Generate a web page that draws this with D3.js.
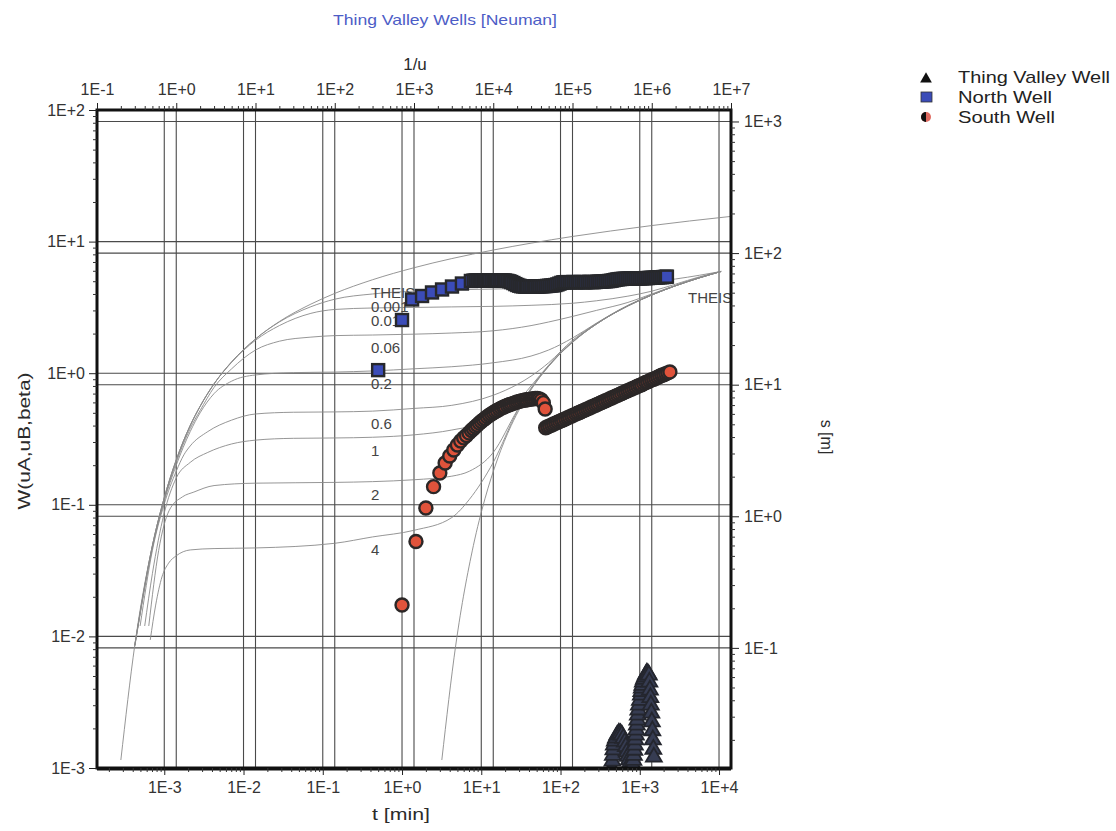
<!DOCTYPE html>
<html>
<head>
<meta charset="utf-8">
<script src="https://cdn.jsdelivr.net/npm/d3@7"></script>
<style>
  body { margin: 0; background: #fff; }
  text { font-family: "Liberation Sans", Arial, sans-serif; fill: #2b2b2b; }
</style>
</head>
<body>
<div id="chart"></div>
<script>
// ---- type curves: [1/u, W] ----
var theisA = [[0.2,0.00115],[0.3,0.0086],[0.5,0.0489],[0.7,0.111],[1,0.219],[1.5,0.40],[2,0.56],[3,0.83],[5,1.22],[10,1.82],[20,2.47],[50,3.35],[100,4.04],[300,5.13],[1000,6.33],[3000,7.43],[1e4,8.63],[3e4,9.73],[1e5,10.94],[3e5,12.03],[1e6,13.24],[3e6,14.34],[1e7,15.54]];
var theisB = [[2244,0.00115],[3366,0.0086],[5610,0.0489],[7854,0.111],[11220,0.219],[16830,0.40],[22440,0.56],[33660,0.83],[56100,1.22],[112200,1.82],[224400,2.47],[561000,3.35],[1122000,4.04],[3366000,5.13],[7500000,5.93]];
var beta0001 = [[0.3,0.0086],[0.5,0.0489],[0.7,0.111],[1,0.219],[1.5,0.40],[2,0.56],[3,0.83],[5,1.22],[10,1.82],[20,2.45],[50,3.2],[100,3.65],[300,4.0],[1000,4.2],[3000,4.3],[1e4,4.36],[3e4,4.42],[1e5,4.5],[2e5,4.6],[5e5,4.75],[1e6,4.95],[2e6,5.2],[4e6,5.55],[7.5e6,5.93]];
var beta001 = [[0.3,0.0086],[0.5,0.0489],[0.7,0.111],[1,0.219],[1.5,0.40],[2,0.56],[3,0.83],[5,1.21],[10,1.78],[20,2.3],[50,2.85],[100,3.05],[300,3.13],[1000,3.16],[3000,3.19],[1e4,3.22],[3e4,3.28],[1e5,3.4],[2e5,3.55],[5e5,3.85],[1e6,4.2],[2e6,4.75],[4e6,5.4],[7.5e6,5.94]];
var beta006 = [[0.3,0.0085],[0.5,0.048],[0.7,0.108],[1,0.21],[1.5,0.38],[2,0.52],[3,0.78],[5,1.08],[10,1.5],[20,1.75],[50,1.88],[100,1.93],[300,1.95],[1000,1.98],[3000,2.02],[1e4,2.1],[3e4,2.3],[5e4,2.45],[1e5,2.7],[2e5,3.0],[5e5,3.45],[1e6,4.0],[2e6,4.65],[4e6,5.33],[7.5e6,5.95]];
var beta02 = [[0.3,0.0084],[0.5,0.047],[0.7,0.105],[1,0.2],[1.5,0.36],[2,0.5],[3,0.7],[5,0.87],[10,0.97],[30,1.01],[100,1.02],[300,1.04],[1000,1.08],[3000,1.12],[1e4,1.2],[3e4,1.35],[5e4,1.5],[1e5,1.85],[2e5,2.4],[5e5,3.28],[1e6,3.95],[2e6,4.63],[4e6,5.31],[7.5e6,5.93]];
var beta06 = [[0.35,0.012],[0.5,0.045],[0.7,0.1],[1,0.18],[1.25,0.24],[1.5,0.28],[2.5,0.36],[5,0.44],[10,0.49],[30,0.505],[100,0.508],[300,0.515],[1000,0.54],[3000,0.57],[1e4,0.68],[2e4,0.82],[3e4,0.95],[5e4,1.2],[1e5,1.78],[2e5,2.38],[5e5,3.26],[1e6,3.94],[2e6,4.62],[4e6,5.31],[7.5e6,5.93]];
var beta1 = [[0.4,0.012],[0.5,0.03],[0.7,0.085],[1,0.16],[1.5,0.21],[2.5,0.25],[5,0.29],[10,0.31],[30,0.32],[100,0.322],[300,0.326],[1000,0.34],[3000,0.37],[1e4,0.45],[2e4,0.6],[3e4,0.8],[5e4,1.15],[1e5,1.74],[2e5,2.37],[5e5,3.25],[1e6,3.93],[2e6,4.62],[4e6,5.31],[7.5e6,5.93]];
var beta2 = [[0.45,0.012],[0.6,0.045],[0.81,0.09],[1.2,0.115],[1.67,0.125],[3,0.14],[10,0.146],[100,0.148],[300,0.15],[1000,0.155],[3000,0.165],[5000,0.18],[1e4,0.25],[2e4,0.52],[3e4,0.77],[5e4,1.14],[1e5,1.73],[2e5,2.36],[5e5,3.25],[1e6,3.93],[2e6,4.62],[4e6,5.31],[7.5e6,5.93]];
var beta4 = [[0.47,0.0094],[0.55,0.0173],[0.66,0.0283],[0.8,0.036],[1,0.041],[1.5,0.0454],[3,0.0465],[10,0.047],[100,0.051],[300,0.057],[1000,0.064],[3000,0.08],[5000,0.11],[1e4,0.21],[2e4,0.51],[3e4,0.76],[5e4,1.13],[1e5,1.72],[2e5,2.36],[5e5,3.25],[1e6,3.93],[2e6,4.62],[4e6,5.31],[7.5e6,5.93]];
var curveNames = ["THEIS","0.001","0.01","0.06","0.2","0.6","1","2","4"];

// ---- well data: t [min], s [m] ----
var tNorth = [0.5,1,1.34,1.79,2.39,3.2,4.27,5.7,7.4,
  8,8.5,9,9.5,10,10.6,11.2,11.9,12.6,13.4,14.2,15,15.9,16.9,17.9,19,20,
  21.3,22.6,23.9,25.4,26.9,28.5,30.2,32,
  33.9,36,38,40.4,42.8,45.4,48,51,54,57.3,60.7,64.4,68.2,72.3,76.7,81.3,86.1,
  91.3,96.8,102.6,108.8,
  115,122,129.5,137,145.5,154,163.5,173,184,195,206,219,232,246,261,276,293,310,329,349,
  370,392,415,440,467,495,524,556,589,625,662,702,744,789,836,886,939,996,1055,1119,
  1186,1257,1333,1413,1497,1587,1682,1783,1890,2004,2124,2200];
var sNorth = [12.9,31,44.4,47.2,50.2,52.9,55.7,58.7,61.4,
  61.8,62,62,62.1,62.2,62,62.1,62.2,62,62.1,62.2,62,62.1,62,62.1,62,61.9,
  61.5,61,60.2,59.2,58.1,57.2,56.5,56,
  55.8,55.6,55.5,55.6,55.8,55.6,55.5,55.6,55.8,55.9,56,56.1,56.3,56.5,56.7,56.9,57.2,
  57.8,58.6,59.4,60,
  60.1,60.2,60,60.1,60.3,60.1,60,60.2,60.3,60.1,60,60.2,60.4,60.2,60.1,60.3,60.5,60.6,60.7,60.9,
  61,61.2,61.4,61.7,62.2,62.7,63.1,63.4,63.6,63.8,63.9,64,64,64.1,64,64.1,64.2,64.2,64.3,64.4,
  64.5,64.6,64.8,64.9,65,65.2,65.3,65.5,65.6,65.8,66,66.2];
var tSouth = [1,1.5,2,2.5,3,3.5,4,4.5,5,5.5,6,6.5,7,
  7.5,7.95,8.4,8.9,9.45,10,10.6,11.2,11.9,12.6,13.4,14.2,15,15.9,16.9,17.9,19,20,21.3,22.6,23.9,25.4,26.9,28.5,30.2,32,33.9,36,38,40.4,42.8,45.4,48,51,54,57.3,60.7,64,
  65,69,73,77.5,82,87,92,97.5,103,109,116,123,130,138,146,155,164,174,184,195,207,219,232,246,261,277,293,311,330,349,
  370,393,416,441,468,496,525,557,590,626,663,703,745,790,837,888,941,997,1057,1120,1188,1259,1335,1415,1500,1590,1685,1786,1893,2007,2127,2255,2400];
var sSouth = [0.212,0.644,1.156,1.68,2.13,2.54,2.87,3.19,3.48,3.73,3.94,4.11,4.30,
  4.49,4.63,4.78,4.93,5.1,5.25,5.4,5.53,5.7,5.85,5.98,6.12,6.26,6.36,6.5,6.63,6.74,6.83,6.95,7.04,7.12,7.21,7.31,7.4,7.46,7.53,7.6,7.65,7.69,7.73,7.77,7.81,7.85,7.86,7.8,7.65,7.3,6.54,
  4.71,4.79,4.86,4.94,5.02,5.10,5.18,5.26,5.34,5.42,5.51,5.60,5.69,5.78,5.87,5.97,6.06,6.15,6.25,6.35,6.45,6.55,6.65,6.76,6.87,6.98,7.09,7.21,7.32,7.43,
  7.55,7.67,7.80,7.92,8.05,8.18,8.30,8.44,8.57,8.71,8.85,8.99,9.13,9.28,9.42,9.57,9.73,9.88,10.0,10.2,10.4,10.5,10.7,10.9,11.0,11.2,11.4,11.6,11.8,11.9,12.1,12.3,12.5];
var tThing = [445,452,458,465,471,485,500,520,545,570,594,620,649,668,687,708,728,750,772,795,818,830,843,855,868,880,893,906,919,932,946,960,975,1004,1033,1047,1062,1078,1094,1126,1159,1193,1228,1265,1303,1322,1342,1361,1380,1400,1420,1441,1463,1484,1506];
var sThing = [0.0122,0.0138,0.0153,0.0168,0.0183,0.0196,0.0207,0.0218,0.0226,0.0224,0.0218,0.0206,0.0193,0.0178,0.0162,0.015,0.0141,0.0133,0.0127,0.0126,0.0129,0.014,0.0153,0.0167,0.0183,0.02,0.0218,0.0238,0.0259,0.0283,0.0309,0.0338,0.0368,0.04,0.0438,0.0466,0.0495,0.052,0.0551,0.0578,0.0601,0.0625,0.0644,0.0638,0.0622,0.055,0.0479,0.042,0.0368,0.032,0.0274,0.0235,0.020,0.017,0.0148];

// match point: 1/u per minute and W per metre
var invUPerT = 706, wPerS = 0.0818;

var svg = d3.select("#chart").append("svg").attr("width", 1116).attr("height", 831);

var pL = 97, pR = 731, pT = 110, pB = 768;
var x = d3.scaleLog().domain([0.1, 1e7]).range([pL, pR]);
var y = d3.scaleLog().domain([1e-3, 1e2]).range([pB, pT]);
var xt = d3.scaleLog().domain([0.1 / invUPerT, 1e7 / invUPerT]).range([pL, pR]);
var ys = d3.scaleLog().domain([1e-3 / wPerS, 1e2 / wPerS]).range([pB, pT]);

function fmtE(d) { var e = Math.round(Math.log10(d)); return "1E" + (e < 0 ? "-" : "+") + Math.abs(e); }
function majors(sc) {
  var dm = sc.domain(), out = [];
  for (var e = Math.ceil(Math.log10(dm[0]) - 1e-9); e <= Math.floor(Math.log10(dm[1]) + 1e-9); e++) out.push(Math.pow(10, e));
  return out;
}
function minors(sc) {
  var dm = sc.domain(), out = [];
  for (var e = Math.floor(Math.log10(dm[0])); e <= Math.ceil(Math.log10(dm[1])); e++)
    for (var m = 2; m <= 9; m++) { var v = m * Math.pow(10, e); if (v >= dm[0] && v <= dm[1]) out.push(v); }
  return out;
}

// clip
svg.append("clipPath").attr("id", "plot").append("rect")
  .attr("x", pL).attr("y", pT).attr("width", pR - pL).attr("height", pB - pT);

// grid
var grid = svg.append("g").attr("stroke", "#4a4a4a").attr("stroke-width", 1.1);
[[x, "v"], [xt, "v"], [y, "h"], [ys, "h"]].forEach(function(p) {
  var sc = p[0];
  majors(sc).forEach(function(v) {
    var c = sc(v);
    if (p[1] == "v") { if (c > pL + 1 && c < pR - 1) grid.append("line").attr("x1", c).attr("x2", c).attr("y1", pT).attr("y2", pB); }
    else { if (c > pT + 1 && c < pB - 1) grid.append("line").attr("y1", c).attr("y2", c).attr("x1", pL).attr("x2", pR); }
  });
});

// type curves
var curves = [theisA, beta0001, beta001, beta006, beta02, beta06, beta1, beta2, beta4];
var line = d3.line().x(function(d) { return x(d[0]); }).y(function(d) { return y(d[1]); }).curve(d3.curveMonotoneX);
var cg = svg.append("g").attr("clip-path", "url(#plot)");
cg.selectAll("path.tc").data(curves.concat([theisB])).enter().append("path")
  .attr("class", "tc").attr("d", line)
  .attr("fill", "none").attr("stroke", "#8a8a8a").attr("stroke-width", 0.9);

// curve labels
curves.forEach(function(c, i) {
  var p = c.filter(function(d) { return d[0] == 300; })[0];
  svg.append("text").attr("x", 371).attr("y", y(p[1]) + 13).attr("dy", "0.35em")
    .style("font-size", "15px").style("fill", "#444").text(curveNames[i]);
});
var endB = theisB[theisB.length - 1];
svg.append("text").attr("x", x(endB[0]) - 33).attr("y", y(endB[1]) + 26).attr("dy", "0.35em")
  .style("font-size", "15px").style("fill", "#444").text("THEIS");

// data
var dg = svg.append("g").attr("clip-path", "url(#plot)");
dg.selectAll("rect.n").data(tNorth.map(function(t, i) { return [t, sNorth[i]]; })).enter().append("rect")
  .attr("x", function(d) { return xt(d[0]) - 6; }).attr("y", function(d) { return ys(d[1]) - 6; })
  .attr("width", 12).attr("height", 12)
  .attr("fill", "#3b4cb8").attr("stroke", "#27282c").attr("stroke-width", 2.4);
dg.selectAll("circle.s").data(tSouth.map(function(t, i) { return [t, sSouth[i]]; })).enter().append("circle")
  .attr("cx", function(d) { return xt(d[0]); }).attr("cy", function(d) { return ys(d[1]); }).attr("r", 6.5)
  .attr("fill", "#e0533b").attr("stroke", "#2b2727").attr("stroke-width", 2.4);
var tri = d3.symbol().type(d3.symbolTriangle).size(110);
dg.selectAll("path.tv").data(tThing.map(function(t, i) { return [t, sThing[i]]; })).enter().append("path")
  .attr("d", tri).attr("transform", function(d) { return "translate(" + xt(d[0]) + "," + ys(d[1]) + ")"; })
  .attr("fill", "#363c52").attr("stroke", "#24262e").attr("stroke-width", 1.8);

// frame
svg.append("rect").attr("x", pL).attr("y", pT).attr("width", pR - pL).attr("height", pB - pT)
  .attr("fill", "none").attr("stroke", "#111").attr("stroke-width", 3);
svg.append("line").attr("x1", pL).attr("x2", pR).attr("y1", pB + 1).attr("y2", pB + 1)
  .attr("stroke", "#111").attr("stroke-width", 3);

// axes
function addAxis(maker, sc, tr, size, pad) {
  var g = svg.append("g").attr("transform", tr)
    .call(maker(sc).tickValues(majors(sc)).tickFormat(fmtE).tickSize(size).tickPadding(pad));
  g.select(".domain").remove();
  g.selectAll("line").attr("stroke", "#222");
  g.selectAll("text").style("font-size", "16px").style("fill", "#333");
  var m = svg.append("g").attr("transform", tr)
    .call(maker(sc).tickValues(minors(sc)).tickFormat("").tickSize(4));
  m.select(".domain").remove();
  m.selectAll("line").attr("stroke", "#333");
}
addAxis(d3.axisTop, x, "translate(0," + pT + ")", 7, 8);
addAxis(d3.axisBottom, xt, "translate(0," + pB + ")", 7, 7);
addAxis(d3.axisLeft, y, "translate(" + pL + ",0)", 8, 4);
addAxis(d3.axisRight, ys, "translate(" + pR + ",0)", 8, 5);

// titles
svg.append("text").attr("x", 445).attr("y", 25).attr("text-anchor", "middle")
  .attr("textLength", 224).attr("lengthAdjust", "spacingAndGlyphs")
  .style("font-size", "15px").style("fill", "#4d5dc6").text("Thing Valley Wells [Neuman]");
svg.append("text").attr("x", 415).attr("y", 70).attr("text-anchor", "middle")
  .style("font-size", "17px").text("1/u");
svg.append("text").attr("x", 401).attr("y", 820).attr("text-anchor", "middle")
  .attr("textLength", 58).attr("lengthAdjust", "spacingAndGlyphs")
  .style("font-size", "17px").text("t [min]");
svg.append("text").attr("transform", "translate(30,441) rotate(-90)").attr("text-anchor", "middle")
  .attr("textLength", 137).attr("lengthAdjust", "spacingAndGlyphs")
  .style("font-size", "17px").text("W(uA,uB,beta)");
svg.append("text").attr("transform", "translate(821,437) rotate(90)").attr("text-anchor", "middle")
  .style("font-size", "16px").text("s [m]");

// legend
var lg = svg.append("g");
lg.append("path").attr("d", d3.symbol().type(d3.symbolTriangle).size(60))
  .attr("transform", "translate(926,79)").attr("fill", "#111");
lg.append("rect").attr("x", 921).attr("y", 92).attr("width", 11).attr("height", 10)
  .attr("fill", "#3b4cb8").attr("stroke", "#333").attr("stroke-width", 0.8);
lg.append("circle").attr("cx", 926).attr("cy", 117).attr("r", 5).attr("fill", "#e06a60");
lg.append("path").attr("d", d3.arc()({innerRadius: 0, outerRadius: 5, startAngle: Math.PI, endAngle: 2 * Math.PI}))
  .attr("transform", "translate(926,117)").attr("fill", "#111");
var legendNames = ["Thing Valley Well", "North Well", "South Well"];
var legendLen = [152, 94, 97];
legendNames.forEach(function(n, i) {
  lg.append("text").attr("x", 958).attr("y", 83 + i * 20)
    .attr("textLength", legendLen[i]).attr("lengthAdjust", "spacingAndGlyphs")
    .style("font-size", "17px").style("fill", "#222").text(n);
});
</script>
</body>
</html>
